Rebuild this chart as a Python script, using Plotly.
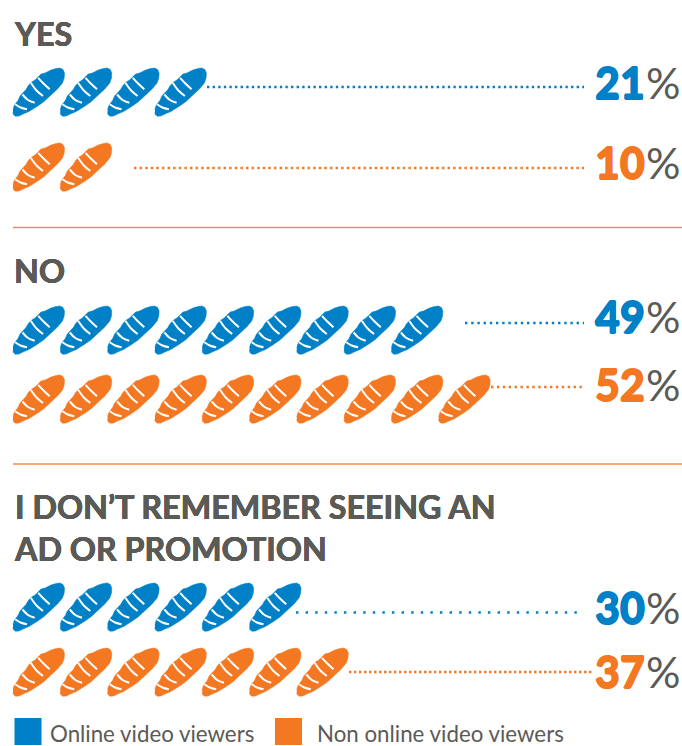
import plotly.graph_objects as go

# Survey answers, percent of each audience
answers = ["YES", "NO", "I DON’T REMEMBER SEEING AN<br>AD OR PROMOTION"]
series_names = ["Online video viewers", "Non online video viewers"]
online_values = [21, 49, 30]
non_online_values = [10, 52, 37]
PCT_PER_LOAF = 5

BLUE = "#0080C6"
ORANGE = "#F47721"
GREY = "#5A5A56"
RULE = "#F58B4F"
FONT = "Lato"

# Page layout, in the y axis' pixel units
PX_PER_PCT = 9.46
LEFT = 13
header_y = [33, 270, 527]
row_y = [[92, 167], [330, 399], [607, 672]]
number_y = [[82, 162], [316, 384], [607, 671]]
leader_y = [[87, 168], [323, 387], [612.5, 672]]
leader_start_px = [[207, 134], [465, 491], [296, 349]]
leader_end_px = [[584, 584], [584, 584], [584, 594]]
leader_gap = [[3.2, 3.2], [3.8, 3.5], [7.2, 2.6]]
rule_y = [227.5, 464]


def to_pct(px):
    return (px - LEFT) / PX_PER_PCT


# Loaf outline and score marks, relative to the loaf's left edge and vertical centre
LOAF = [(0, 17.5), (1, 14), (3, 11), (5, 8.5), (7, 4), (10, 0.5), (13, -2.5), (15, -6), (18, -9.5),
        (22, -12), (25, -15), (28, -18), (32, -19), (35, -20.5), (38, -22), (43, -23.5), (47, -24),
        (50, -22.5), (51.5, -19), (51.2, -14), (49.5, -9), (44.5, -3), (37.5, 4), (30.5, 10),
        (24, 14.5), (16, 19.5), (10, 22), (6, 24), (2.5, 24.3), (0.3, 22.5), (0, 20)]
SCORES = [[(2.2, 12.3), (7.5, 15.5), (14, 17.3)],
          [(9.5, 2.5), (15, 8), (21.7, 10.7)],
          [(17.8, -9.2), (23.5, -1.5), (30, 4)],
          [(25.2, -14.2), (30.5, -8.5), (36.7, -2.7)]]


def loaves(value, centre_y):
    """Outline and score paths for a row of loaves, one per full PCT_PER_LOAF."""
    body_x, body_y, mark_x, mark_y = [], [], [], []
    for i in range(value // PCT_PER_LOAF):
        start = i * PCT_PER_LOAF
        for dx, dy in LOAF:
            body_x.append(start + dx / PX_PER_PCT)
            body_y.append(centre_y + dy)
        body_x.append(None)
        body_y.append(None)
        for score in SCORES:
            for dx, dy in score:
                mark_x.append(start + dx / PX_PER_PCT)
                mark_y.append(centre_y + dy)
            mark_x.append(None)
            mark_y.append(None)
    return body_x, body_y, mark_x, mark_y


fig = go.Figure()
annotations = []


def label(x, y, text, size, color, anchor="left", weight="normal", shadow="none"):
    annotations.append(dict(x=x, y=y, xref="x", yref="y", text=text, showarrow=False, xanchor=anchor,
                            yanchor="middle", align="left", borderpad=0,
                            font=dict(family=FONT, size=size, color=color, weight=weight, shadow=shadow)))


def heavy(color, r=0.6):
    return f"{r}px 0 0 {color}, -{r}px 0 0 {color}, 0 {r}px 0 {color}, 0 -{r}px 0 {color}"


for g, answer in enumerate(answers):
    label(to_pct(13), header_y[g], answer, 32.3, GREY, weight=700, shadow=heavy(GREY, 0.3))
    for s, (values, color) in enumerate(((online_values, BLUE), (non_online_values, ORANGE))):
        value = values[g]
        bx, by, mx, my = loaves(value, row_y[g][s])
        fig.add_trace(go.Scatter(x=bx, y=by, mode="lines", fill="toself", fillcolor=color,
                                 line=dict(color=color, width=0.5), hoverinfo="skip", showlegend=False))
        fig.add_trace(go.Scatter(x=mx, y=my, mode="lines", line=dict(color="white", width=2, shape="spline"),
                                 hoverinfo="skip", showlegend=False))
        fig.add_trace(go.Scatter(x=[to_pct(leader_start_px[g][s]), to_pct(leader_end_px[g][s])],
                                 y=[leader_y[g][s]] * 2, mode="lines",
                                 line=dict(color=color, width=2.4, dash=f"2.4px,{leader_gap[g][s]}px"),
                                 hoverinfo="skip", showlegend=False))
        label(to_pct(646), number_y[g][s], str(value), 43, color, anchor="right", weight=900,
              shadow=heavy(color, 0.6))
        label(to_pct(645), number_y[g][s], "%", 43, GREY)

for y in rule_y:
    fig.add_trace(go.Scatter(x=[to_pct(LEFT), to_pct(682)], y=[y, y], mode="lines",
                             line=dict(color=RULE, width=1.5), hoverinfo="skip", showlegend=False))

# Key along the bottom edge
key_x = [28, 288.5]
key_text_x = [49, 316]
for name, color, kx, tx in zip(series_names, (BLUE, ORANGE), key_x, key_text_x):
    fig.add_trace(go.Scatter(x=[to_pct(kx)], y=[731.5], mode="markers",
                             marker=dict(symbol="square", size=27, color=color, line=dict(width=0)),
                             hoverinfo="skip", showlegend=False))
    label(to_pct(tx), 733, name, 22.3, GREY)

fig.update_layout(
    width=682, height=746, autosize=False, margin=dict(l=0, r=0, t=0, b=0),
    paper_bgcolor="white", plot_bgcolor="white", annotations=annotations,
    xaxis=dict(range=[to_pct(0), to_pct(682)], visible=False, fixedrange=True),
    yaxis=dict(range=[746, 0], visible=False, fixedrange=True),
)
fig.write_html("out.html", config={"displayModeBar": False})
